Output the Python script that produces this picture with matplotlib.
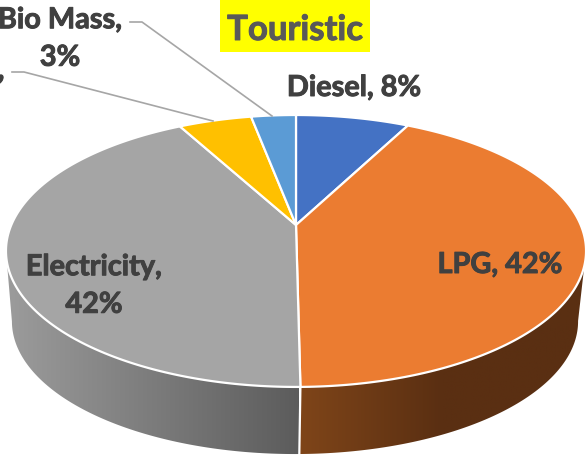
import numpy as np
import matplotlib
matplotlib.use('Agg')
import matplotlib.pyplot as plt
from matplotlib.colors import LinearSegmentedColormap
from matplotlib.patches import Polygon, Rectangle
import matplotlib.patheffects as pe

plt.rcParams['font.family'] = ['Lato', 'DejaVu Sans']

categories = ['Diesel', 'LPG', 'Electricity', 'Bio Mass']
values = [7.6, 42.2, 42.3, 4.9, 3.0]
colors = ['#4472C4', '#EB7C31', '#A5A5A5', '#FFC000', '#5B9BD5']

# perspective of the pie, in pixels of the picture
CX, CY = 296, 226
RX, RY = 284.7, 131
K = 0.191
DEPTH_Y = 71
DEPTH_SCALE = 0.976


def top_point(theta):
    w = 1 + K * np.cos(theta)
    return CX + RX * np.sin(theta) / w, CY - RY * np.cos(theta) / w


def bottom_point(theta):
    w = 1 + K * np.cos(theta)
    x = CX - 1 + DEPTH_SCALE * RX * np.sin(theta) / w
    y = CY + DEPTH_Y - DEPTH_SCALE * RY * np.cos(theta) / w
    return x, y


def draw_wall(ax, t0, t1, color_stops, x0, x1):
    t = np.linspace(t0, t1, 200)
    xt, yt = top_point(t)
    xb, yb = bottom_point(t[::-1])
    pts = np.column_stack([np.r_[xt, xb], np.r_[yt, yb]])
    poly = Polygon(pts, closed=True, fc='none', ec='none')
    ax.add_patch(poly)
    cmap = LinearSegmentedColormap.from_list('wall', color_stops)
    grad = np.linspace(0, 1, 256).reshape(1, -1)
    im = ax.imshow(grad, cmap=cmap, extent=(x0, x1, 460, 200), aspect='auto', zorder=1)
    im.set_clip_path(poly)


fig = plt.figure(figsize=(5.85, 4.56), dpi=100)
ax = fig.add_axes([0, 0, 1, 1])

edges = np.r_[0, np.cumsum(values)] / np.sum(values) * 2 * np.pi

# walls, only the front of the orange and grey slices can be seen
split = edges[2]
draw_wall(ax, 1.76, split, ['#5A2F12', '#5A2F12', '#7F4519'], 585, 299)
draw_wall(ax, split, 4.52, ['#5C5C5C', '#9C9C9C'], 299, 5)

# top face
for i in range(len(values)):
    t = np.linspace(edges[i], edges[i + 1], 200)
    x, y = top_point(t)
    ax.fill(np.r_[CX, x], np.r_[CY, y], color=colors[i], ec='white', lw=1.6, zorder=3,
            joinstyle='round')

xs, ys = top_point(split)
xe, ye = bottom_point(split)
ax.plot([xs, xe], [ys, ye], color='white', lw=1.6, zorder=2)

# leader lines
ax.plot([130, 142, 272], [23, 23, 117], color='#A6A6A6', lw=1.2, zorder=4)
ax.plot([12, 24, 213], [73, 73, 122], color='#A6A6A6', lw=1.2, zorder=4)

ax.add_patch(Rectangle((220, 0), 150, 53, fc='#FFFF00', ec='none', zorder=4))
ax.text(295, 31, 'Touristic', fontsize=25, fontweight='bold', color='#595959',
        ha='center', va='center', zorder=5,
        path_effects=[pe.withStroke(linewidth=0.7, foreground='#595959')])

label_style = dict(fontsize=20.8, fontweight='bold', color='#404040', ha='center', va='center',
                   zorder=5, linespacing=1.55,
                   path_effects=[pe.withStroke(linewidth=0.7, foreground='#404040')])
ax.text(354, 89, f'{categories[0]}, {round(values[0])}%', **label_style)
ax.text(500, 266, f'{categories[1]}, {round(values[1])}%', **label_style)
ax.text(94, 287, f'{categories[2]},\n{round(values[2])}%', **label_style)
ax.text(60, 40, f'{categories[3]},\n{round(values[4])}%', **label_style)
ax.text(1, 72, ',', **label_style)

ax.set_xlim(0, 585)
ax.set_ylim(456, 0)
ax.axis('off')
fig.savefig('out.png', dpi=100)
